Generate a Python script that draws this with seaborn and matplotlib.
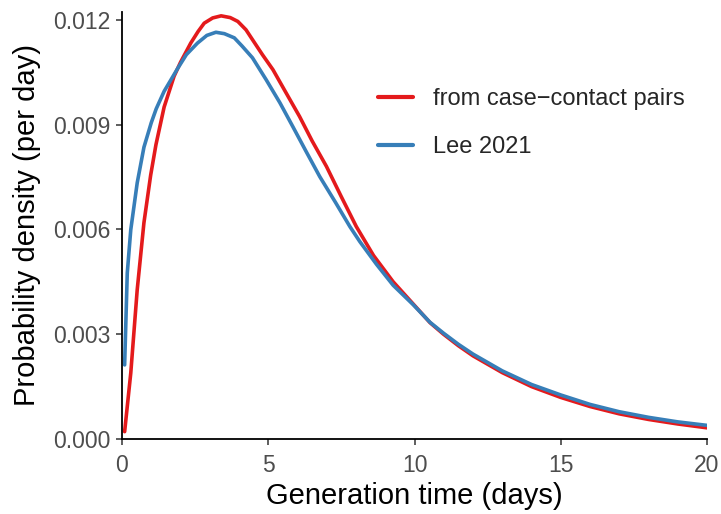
import matplotlib
matplotlib.use("Agg")
import matplotlib.pyplot as plt
import seaborn as sns
import pandas as pd

# values
red_x = [0.09, 0.30, 0.52, 0.75, 0.98, 1.16, 1.44, 1.78, 2.0, 2.35, 2.6, 2.81, 3.1, 3.39,
         3.7, 3.96, 4.24, 4.46, 4.8, 5.16, 5.6, 6.07, 6.5, 6.99, 7.5, 8.01, 8.6, 9.27,
         9.96, 10.53, 10.99, 11.5, 12.0, 13.0, 14.0, 15.0, 16.0, 17.0, 18.0, 19.0, 20.0]
red_y = [0.00021, 0.00189, 0.00427, 0.00619, 0.00755, 0.00842, 0.00950, 0.01038, 0.01078,
         0.01133, 0.01166, 0.01190, 0.01205, 0.01211, 0.01206, 0.01195, 0.01171, 0.01143,
         0.01100, 0.01057, 0.00992, 0.00923, 0.00853, 0.00780, 0.00693, 0.00608, 0.00525,
         0.00450, 0.00386, 0.00333, 0.00300, 0.00267, 0.00238, 0.00190, 0.00150, 0.00119,
         0.00093, 0.00072, 0.00056, 0.00043, 0.00032]

blue_x = [0.09, 0.18, 0.30, 0.52, 0.75, 1.0, 1.17, 1.44, 1.90, 2.2, 2.58, 2.9, 3.21, 3.5,
          3.84, 4.1, 4.46, 4.93, 5.4, 5.84, 6.3, 6.76, 7.3, 7.79, 8.13, 8.7, 9.27, 9.96,
          10.53, 10.99, 11.5, 12.0, 13.0, 14.0, 15.0, 16.0, 17.0, 18.0, 19.0, 20.0]
blue_y = [0.00212, 0.00475, 0.00599, 0.00733, 0.00835, 0.00905, 0.00945, 0.00995, 0.01060,
          0.01100, 0.01133, 0.01155, 0.01164, 0.01160, 0.01148, 0.01125, 0.01091, 0.01028,
          0.00962, 0.00894, 0.00822, 0.00751, 0.00677, 0.00608, 0.00565, 0.00500, 0.00440,
          0.00384, 0.00334, 0.00303, 0.00271, 0.00243, 0.00195, 0.00156, 0.00126, 0.00099,
          0.00078, 0.00062, 0.00049, 0.00039]

labels = ["from case\u2212contact pairs", "Lee 2021"]
colors = ["#E41A1C", "#377EB8"]

df = pd.concat([
    pd.DataFrame({"x": red_x, "y": red_y, "source": labels[0]}),
    pd.DataFrame({"x": blue_x, "y": blue_y, "source": labels[1]}),
])

sns.set_theme(style="ticks")
plt.rcParams["font.family"] = ["Liberation Sans", "DejaVu Sans"]

fig = plt.figure(figsize=(7.21, 5.14), dpi=100)
ax = fig.add_axes([122 / 721, 75 / 514, 585 / 721, 427 / 514])

sns.lineplot(data=df, x="x", y="y", hue="source", palette=dict(zip(labels, colors)),
             linewidth=2.6, ax=ax, sort=False)

ax.set_xlim(0, 20)
ax.set_ylim(0, 0.01222)
ax.set_xticks([0, 5, 10, 15, 20])
ax.set_yticks([0, 0.003, 0.006, 0.009, 0.012])
ax.set_yticklabels(["0.000", "0.003", "0.006", "0.009", "0.012"])
ax.set_xlabel("Generation time (days)", fontsize=21, color="black", labelpad=4)
ax.set_ylabel("Probability density (per day)", fontsize=21, color="black", labelpad=8.5)
ax.tick_params(axis="both", labelsize=16.5, labelcolor="#4D4D4D", color="#333333",
               length=4, width=1.1)
ax.tick_params(axis="x", pad=6.5)
ax.tick_params(axis="y", pad=4.5)
sns.despine(ax=ax)
for s in ["left", "bottom"]:
    ax.spines[s].set_linewidth(1.3)
    ax.spines[s].set_color("black")

leg = ax.legend(loc="upper left", bbox_to_anchor=(0.4376, 0.822), frameon=False,
                borderaxespad=0, borderpad=0, fontsize=17, handlelength=1.5,
                handletextpad=0.85, labelspacing=1.1)
for line in leg.get_lines():
    line.set_linewidth(3)

fig.savefig("out.png", dpi=100)
